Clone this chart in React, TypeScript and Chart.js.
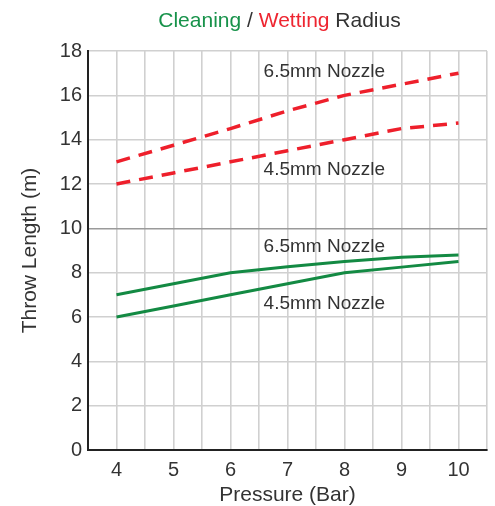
import React, { useEffect, useRef } from "react";
import { Chart, registerables } from "chart.js";

Chart.register(...registerables);

const pressure = [4, 5, 6, 7, 8, 9, 10];
const wetting65 = [13, 13.75, 14.5, 15.3, 16, 16.5, 17];
const wetting45 = [12, 12.5, 13, 13.5, 14, 14.5, 14.75];
const cleaning65 = [7, 7.5, 8, 8.27, 8.5, 8.7, 8.8];
const cleaning45 = [6, 6.5, 7, 7.5, 8, 8.25, 8.5];

const xTickValues = [4, 5, 6, 7, 8, 9, 10];
const nozzleLabels = ["6.5mm Nozzle", "4.5mm Nozzle", "6.5mm Nozzle", "4.5mm Nozzle"];
const labelX = [6.58, 6.58, 6.58, 6.58];
const labelY = [17.05, 12.65, 9.15, 6.6];

const titleParts = [
  { text: "Cleaning", color: "#17924a" },
  { text: " / ", color: "#333333" },
  { text: "Wetting", color: "#ee2530" },
  { text: " Radius", color: "#333333" },
];

const FONT = "'Liberation Sans', Arial, sans-serif";
const GREEN = "#138a43";
const RED = "#ee1f2b";

const toXY = (ys: number[]) => pressure.map((x, i) => ({ x, y: ys[i] }));

const overlayPlugin = {
  id: "overlay",
  afterDatasetsDraw(chart: any) {
    const { ctx, scales, chartArea } = chart;
    ctx.save();
    ctx.font = `19px ${FONT}`;
    ctx.fillStyle = "#333333";
    ctx.textBaseline = "middle";
    ctx.textAlign = "left";
    nozzleLabels.forEach((t, i) => {
      ctx.fillText(t, scales.x.getPixelForValue(labelX[i]), scales.y.getPixelForValue(labelY[i]));
    });
    ctx.font = `21px ${FONT}`;
    const widths = titleParts.map((p) => ctx.measureText(p.text).width);
    const total = widths.reduce((a, b) => a + b, 0);
    let x = (chartArea.left + chartArea.right) / 2 - 8 - total / 2;
    titleParts.forEach((p, i) => {
      ctx.fillStyle = p.color;
      ctx.fillText(p.text, x, 21);
      x += widths[i];
    });
    ctx.restore();
  },
};

export default function App() {
  const ref = useRef<HTMLCanvasElement | null>(null);

  useEffect(() => {
    if (!ref.current) return;
    const chart = new Chart(ref.current, {
      type: "line",
      data: {
        datasets: [
          { label: "Wetting 6.5mm", data: toXY(wetting65), borderColor: RED, borderWidth: 3.5, borderDash: [14, 9], pointRadius: 0, tension: 0 },
          { label: "Wetting 4.5mm", data: toXY(wetting45), borderColor: RED, borderWidth: 3.5, borderDash: [14, 9], pointRadius: 0, tension: 0 },
          { label: "Cleaning 6.5mm", data: toXY(cleaning65), borderColor: GREEN, borderWidth: 3, pointRadius: 0, tension: 0 },
          { label: "Cleaning 4.5mm", data: toXY(cleaning45), borderColor: GREEN, borderWidth: 3, pointRadius: 0, tension: 0 },
        ],
      },
      options: {
        animation: false,
        responsive: false,
        devicePixelRatio: 1,
        layout: { padding: { top: 51, right: 7, left: 0, bottom: 0 } },
        plugins: { legend: { display: false }, tooltip: { enabled: false }, title: { display: false } },
        scales: {
          x: {
            type: "linear",
            min: 3.5,
            max: 10.5,
            afterFit: (s: any) => { s.height = 56; },
            ticks: {
              stepSize: 0.5,
              autoSkip: false,
              maxRotation: 0,
              padding: 8,
              color: "#333333",
              font: { family: FONT, size: 20 },
              callback: (v: any) => (xTickValues.includes(Number(v)) ? String(v) : ""),
            },
            grid: { color: "#d0d0d0", lineWidth: 1.6, drawTicks: false },
            border: { color: "#222222", width: 2 },
            title: { display: true, text: "Pressure (Bar)", color: "#333333", font: { family: FONT, size: 21, lineHeight: 1 }, padding: { top: 0, bottom: 0 } },
          },
          y: {
            min: 0,
            max: 18,
            afterFit: (s: any) => { s.width = 88; },
            ticks: { stepSize: 2, padding: 6, color: "#333333", font: { family: FONT, size: 20 } },
            grid: {
              color: (c: any) => (c.tick && c.tick.value === 10 ? "#9a9a9a" : "#d0d0d0"),
              lineWidth: 1.6,
              drawTicks: false,
            },
            border: { color: "#222222", width: 2 },
            title: { display: true, text: "Throw Length (m)", color: "#333333", font: { family: FONT, size: 21 }, padding: { top: 18, bottom: 0 } },
          },
        },
      },
      plugins: [overlayPlugin],
    } as any);
    return () => chart.destroy();
  }, []);

  return (
    <div style={{ position: "absolute", left: 0, top: 0, width: 495, height: 506, background: "#fff" }}>
      <canvas ref={ref} width={495} height={506} style={{ display: "block", width: 495, height: 506 }} />
    </div>
  );
}
